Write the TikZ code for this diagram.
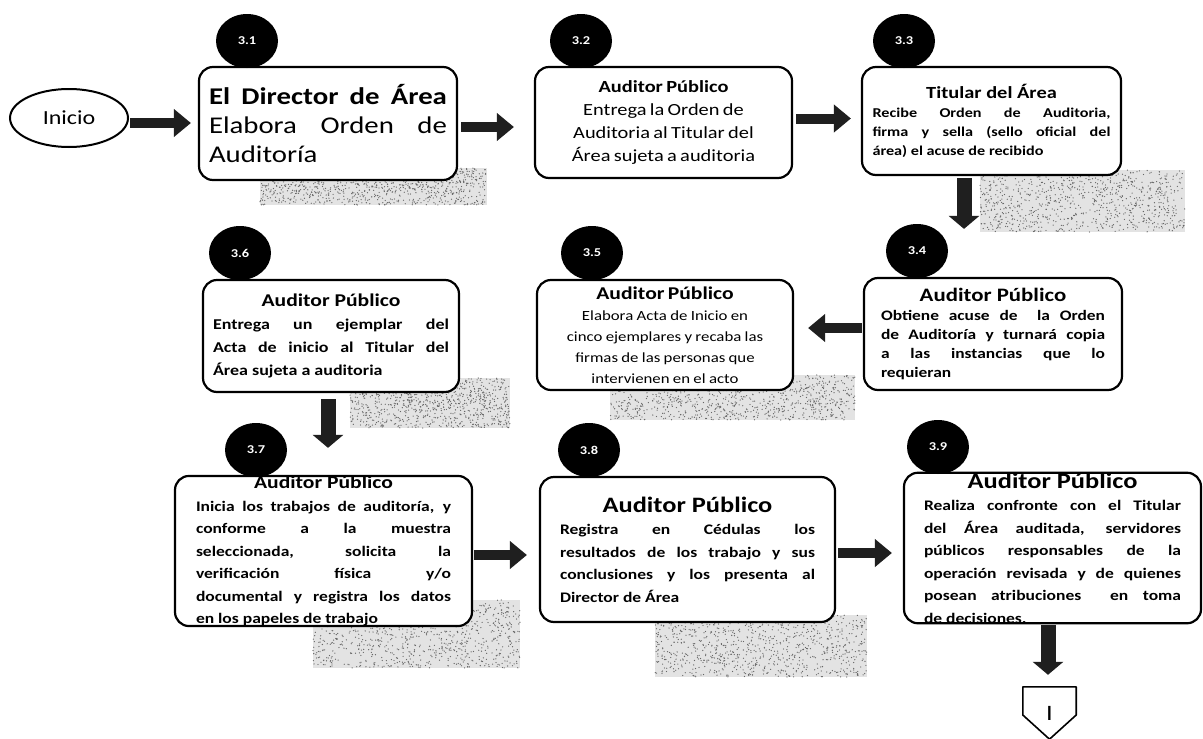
\documentclass[tikz,border=0pt]{standalone}
\usepackage{fontspec}
\setmainfont{Carlito}[FakeStretch=1.2]
\usetikzlibrary{arrows.meta,shapes.geometric}
\newcommand{\fsz}[2]{\fontsize{#1}{#2}\selectfont}
\newcommand{\speckpatch}[4]{%
  \fill[black!11] (#1,#2) rectangle (#3,#4);
  \foreach \k in {1,...,900}{\fill[black!60] ({#1+rnd*(#3-#1)},{#2+rnd*(#4-#2)}) circle (0.65pt);}
}
\begin{document}
\begin{tikzpicture}[x=1pt,y=-1pt,
  box/.style={draw=black, line width=2.2pt, rounded corners=14pt, fill=white, inner sep=0pt, align=justify},
  badge/.style={ellipse, fill=black, minimum width=62pt, minimum height=54pt, inner sep=0pt, text=white, font=\bfseries\fsz{12}{12}},
  blk/.style={draw=black!88, line width=10pt, -{Triangle[length=17pt,width=27pt]}},
  blkv/.style={draw=black!88, line width=15pt, -{Triangle[length=13pt,width=30pt]}},
]
\useasboundingbox (0,0) rectangle (1203,739);
\fill[white] (0,0) rectangle (1203,739);
\pgfmathsetseed{11}
% scan shadows
\speckpatch{260}{168}{487}{205}
\speckpatch{980}{170}{1185}{232}
\speckpatch{610}{375}{855}{420}
\speckpatch{350}{378}{510}{428}
\speckpatch{313}{600}{520}{668}
\speckpatch{655}{615}{867}{677}

% start
\node[ellipse, draw=black, line width=2pt, minimum width=118pt, minimum height=58pt, font=\fsz{20}{20}] (ini) at (69,118) {Inicio};

% row 1
\node[box, minimum width=258pt, minimum height=113pt, text width=238pt] (b31) at (328,123.5)
  {\fsz{24}{29}\textbf{El Director de Área}\linebreak Elabora Orden de\linebreak Auditoría\par};
\node[box, minimum width=257pt, minimum height=111pt, text width=240pt, align=center] (b32) at (663.5,122.5)
  {\fsz{17}{23}\textbf{Auditor Público}\\ Entrega la Orden de\\ Auditoria al Titular del\\ Área sujeta a auditoria\par};
\node[box, minimum width=259pt, minimum height=108pt, text width=238pt] (b33) at (991.5,121)
  {{\centering\fsz{17}{21}\bfseries Titular del Área\par}\fsz{13.5}{19}\bfseries Recibe Orden de Auditoria,\linebreak firma y sella (sello oficial del\linebreak área) el acuse de recibido\par};

% row 2
\node[box, minimum width=258pt, minimum height=112pt, text width=224pt] (b34) at (993,334)
  {{\centering\fsz{19}{22}\bfseries Auditor Público\par}\fsz{14.5}{19}\bfseries Obtiene acuse de \ la Orden\linebreak de Auditoría y turnará copia\linebreak a las instancias que lo\linebreak requieran\par};
\node[box, minimum width=256pt, minimum height=110pt, text width=240pt, align=center] (b35) at (665,335)
  {{\fsz{18}{22}\bfseries Auditor Público\par}\fsz{14}{21}Elabora Acta de Inicio en\\ cinco ejemplares y recaba las\\ firmas de las personas que\\ intervienen en el acto\par};
\node[box, minimum width=256pt, minimum height=112pt, text width=236pt] (b36) at (331,336)
  {{\centering\fsz{18}{22}\bfseries Auditor Público\par}\fsz{15}{23}\bfseries Entrega un ejemplar del\linebreak Acta de inicio al Titular del\linebreak Área sujeta a auditoria\par};

% row 3
\node[box, minimum width=297pt, minimum height=148pt, text width=255pt] (b37) at (323.5,551)
  {{\centering\fsz{18}{20}\bfseries Auditor Público\par}\fsz{14.6}{22.5}\bfseries Inicia los trabajos de auditoría, y\linebreak conforme a la muestra\linebreak seleccionada, solicita la\linebreak verificación física y/o\linebreak documental y registra los datos\linebreak en los papeles de trabajo\par};
\node[box, minimum width=295pt, minimum height=145pt, text width=255pt] (b38) at (687.5,549.5)
  {{\centering\fsz{22}{24}\bfseries Auditor Público\par}\fsz{14.6}{22.5}\bfseries Registra en Cédulas los\linebreak resultados de los trabajo y sus\linebreak conclusiones y los presenta al\linebreak Director de Área\par};
\node[box, minimum width=297pt, minimum height=148pt, text width=257pt] (b39) at (1052.5,548)
  {{\centering\fsz{22}{22}\bfseries Auditor Público\par}\fsz{14.6}{22.5}\bfseries Realiza confronte con el Titular\linebreak del Área auditada, servidores\linebreak públicos responsables de la\linebreak operación revisada y de quienes\linebreak posean atribuciones \ en toma\linebreak de decisiones.\par};

% badges
\node[badge] (n31) at (247,41) {3.1};
\node[badge] (n32) at (581,41) {3.2};
\node[badge] (n33) at (904,41) {3.3};
\node[badge] (n34) at (917,251) {3.4};
\node[badge] (n35) at (592,253) {3.5};
\node[badge] (n36) at (240,253) {3.6};
\node[badge] (n37) at (256,450) {3.7};
\node[badge] (n38) at (589,450) {3.8};
\node[badge] (n39) at (938,447) {3.9};

% off-page connector
\node[minimum width=53pt, minimum height=52pt, inner sep=0pt, font=\fsz{22}{22}] (con) at (1049.5,713) {I};
\draw[line width=1.6pt, line join=round] (con.north west) -- (con.north east) -- ([yshift=-2pt]con.east) -- (con.south) -- ([yshift=-2pt]con.west) -- cycle;

% arrows
\draw[blk] ([xshift=1pt,yshift=-5pt]ini.east) -- ([xshift=-7pt,yshift=0.5pt]b31.west);
\draw[blk] ([xshift=3pt,yshift=-3.5pt]b31.east) -- ([xshift=-20pt,yshift=-4.5pt]b32.west);
\draw[blk] ([xshift=3pt,yshift=4pt]b32.east) -- ([xshift=-10pt,yshift=2.5pt]b33.west);
\draw[blkv] ([xshift=-27.5pt,yshift=-2pt]b33.south) -- ([xshift=-29pt,yshift=48pt]b34.north);
\draw[blk] ([xshift=-1pt,yshift=6pt]b34.west) -- ([xshift=14pt,yshift=7pt]b35.east);
\draw[blkv] ([xshift=-3pt,yshift=-6pt]b36.south) -- ([xshift=4.5pt,yshift=27pt]b37.north);
\draw[blk] ([xshift=1pt,yshift=-4pt]b37.east) -- ([xshift=-12pt,yshift=-5.5pt]b38.west);
\draw[blk] ([xshift=2pt,yshift=-3.5pt]b38.east) -- ([xshift=-11pt,yshift=-5pt]b39.west);
\draw[blkv] ([xshift=-4.5pt,yshift=-1pt]b39.south) -- ([xshift=-1.5pt,yshift=12pt]con.north);
\end{tikzpicture}
\end{document}
